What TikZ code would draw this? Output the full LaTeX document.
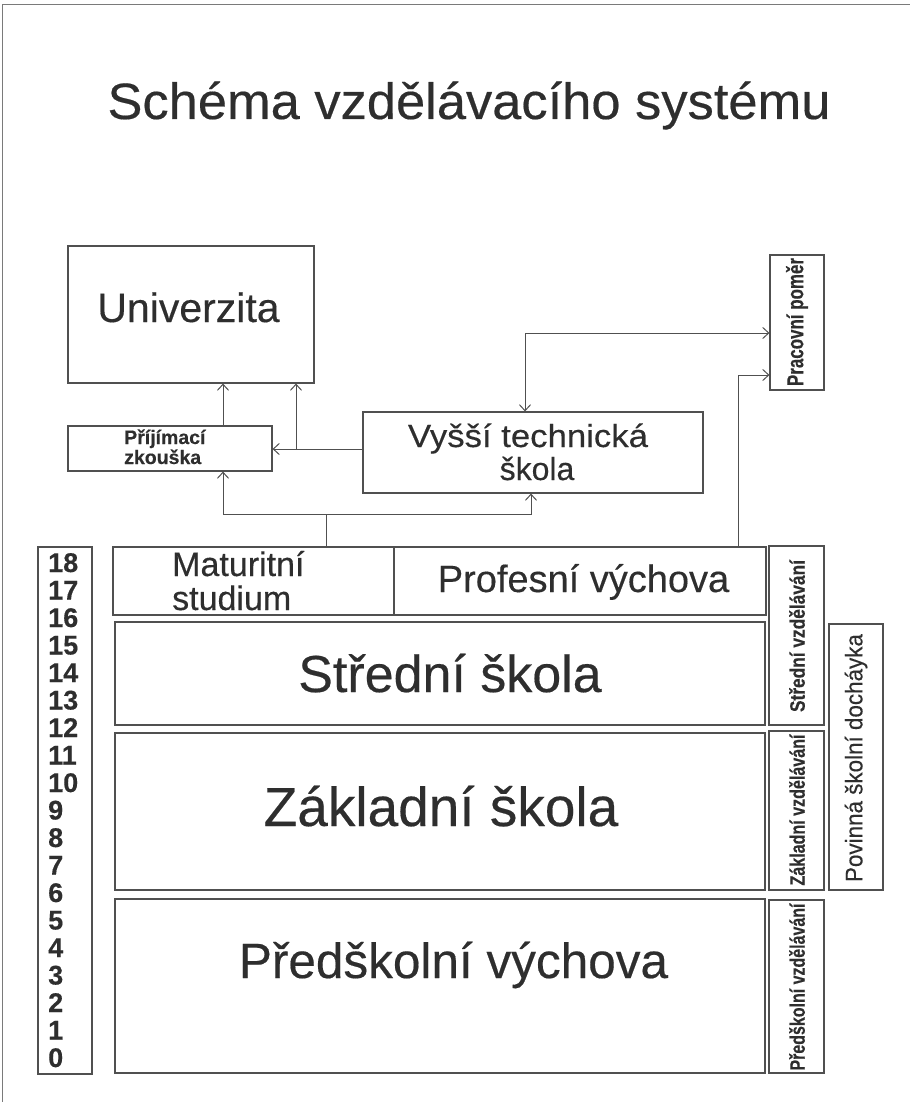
\documentclass[tikz,border=0pt]{standalone}
\usepackage{fontspec}
\setmainfont{Liberation Sans}[FakeBold=0.35]
\usetikzlibrary{arrows.meta,fit}
\definecolor{txt}{HTML}{2E2E2E}
\definecolor{ln}{HTML}{505050}
\definecolor{frm}{HTML}{7A7A7A}
\newcommand{\fitw}[2]{\resizebox{#1}{\height}{#2}}
\newcommand{\fs}[1]{\fontsize{#1}{#1}\selectfont}
\begin{document}
\begin{tikzpicture}[x=1pt,y=-1pt,
  box/.style={draw=ln, line width=1.1pt, inner sep=0pt},
  lbl/.style={text=txt, inner sep=0pt, anchor=base},
  lblw/.style={text=txt, inner sep=0pt, anchor=base west},
  tip/.tip={Straight Barb[length=6pt,width=11pt]},
  arr/.style={draw=ln, line width=1pt, -tip},
  arrb/.style={draw=ln, line width=1pt, tip-tip},
  vlbl/.style={text=txt, inner sep=0pt, rotate=90, font=\fs{21}\bfseries},
  numl/.style={text=txt, inner sep=0pt, anchor=base west, font=\fs{27}\bfseries},
]
\useasboundingbox (0,0) rectangle (910,1102);
% frame
\draw[draw=frm, line width=1.5pt] (2.5,1102) -- (2.5,4.5) -- (910,4.5);

% title
\node[lbl, font=\fs{51}] (title) at (469,119) {\fitw{723pt}{Schéma vzdělávacího systému}};

% boxes
\node[box, fit={(68,246) (314,383)}] (uni) {};
\node[box, fit={(68,426) (272,471)}] (pz) {};
\node[box, fit={(363,412) (703,493)}] (vts) {};
\node[box, fit={(770,255) (824,390)}] (prac) {};
\node[box, fit={(113,547) (394,615)}] (mat) {};
\node[box, fit={(394,547) (766,615)}] (prof) {};
\node[box, fit={(115,622) (765,725)}] (ss) {};
\node[box, fit={(115,733) (765,890)}] (zs) {};
\node[box, fit={(115,899) (765,1073)}] (pv) {};
\node[box, fit={(38,547) (92,1074)}] (num) {};
\node[box, fit={(769,546) (824,725)}] (sv) {};
\node[box, fit={(769,731) (824,890)}] (zv) {};
\node[box, fit={(769,900) (824,1073)}] (pvz) {};
\node[box, fit={(829,624) (883,890)}] (pov) {};

% texts
\node[lbl, font=\fs{41}] (unit) at (188.5,322) {Univerzita};
\node[lblw, font=\fs{19.5}\bfseries] (pzt1) at (124,444) {Příjímací};
\node[lblw, font=\fs{19.5}\bfseries] (pzt2) at (124,464) {zkouška};
\node[lbl, font=\fs{32}] (vtst1) at (528,447) {\fitw{240pt}{Vyšší technická}};
\node[lbl, font=\fs{32}] (vtst2) at (537,480) {škola};
\node[lblw, font=\fs{34}] (matt1) at (172,576) {Maturitní};
\node[lblw, font=\fs{34}] (matt2) at (172,610) {studium};
\node[lbl, font=\fs{38}] (proft) at (583.5,592) {Profesní výchova};
\node[lbl, font=\fs{52}] (sst) at (450,692) {Střední škola};
\node[lbl, font=\fs{55}] (zst) at (441,826) {Základní škola};
\node[lbl, font=\fs{49.5}] (pvt) at (453.5,978) {Předškolní výchova};

\node[vlbl, font=\fs{23}\bfseries] (pract) at (797,322) {\fitw{128pt}{Pracovní poměr}};
\node[vlbl] (svt) at (797,636) {\fitw{152pt}{Střední vzdělávání}};
\node[vlbl] (zvt) at (797,810) {\fitw{151pt}{Základní vzdělávání}};
\node[vlbl] (pvzt) at (797,987) {\fitw{167pt}{Předškolní vzdělávání}};
\node[vlbl, font=\fs{24}] (povt) at (856,758) {\fitw{248pt}{Povinná školní docháyka}};

% ages
\foreach \a [count=\i from 0] in {18,17,...,0} {
  \node[numl] (age\a) at (48,{572+27.5*\i}) {\a};
}

% connector junctions
\coordinate (j1) at (326,514);
\coordinate (a1) at (223,514);
\coordinate (a2) at (531,514);
\coordinate (b1) at (296,449);
\coordinate (d1) at (525,333);
\coordinate (e1) at (738,375);

% connectors
\draw[arr] (mat.north -| j1) -- (j1) -- (a1) -- (pz.south -| a1);
\draw[arr] (j1) -- (a2) -- (vts.south -| a2);
\draw[arr] (pz.north -| a1) -- (uni.south -| a1);
\draw[arr] (vts.west |- b1) -- (pz.east |- b1);
\draw[arr] (b1) -- (uni.south -| b1);
\draw[arrb] (vts.north -| d1) -- (d1) -- (prac.west |- d1);
\draw[arr] (prof.north -| e1) -- (e1) -- (prac.west |- e1);
\end{tikzpicture}
\end{document}
